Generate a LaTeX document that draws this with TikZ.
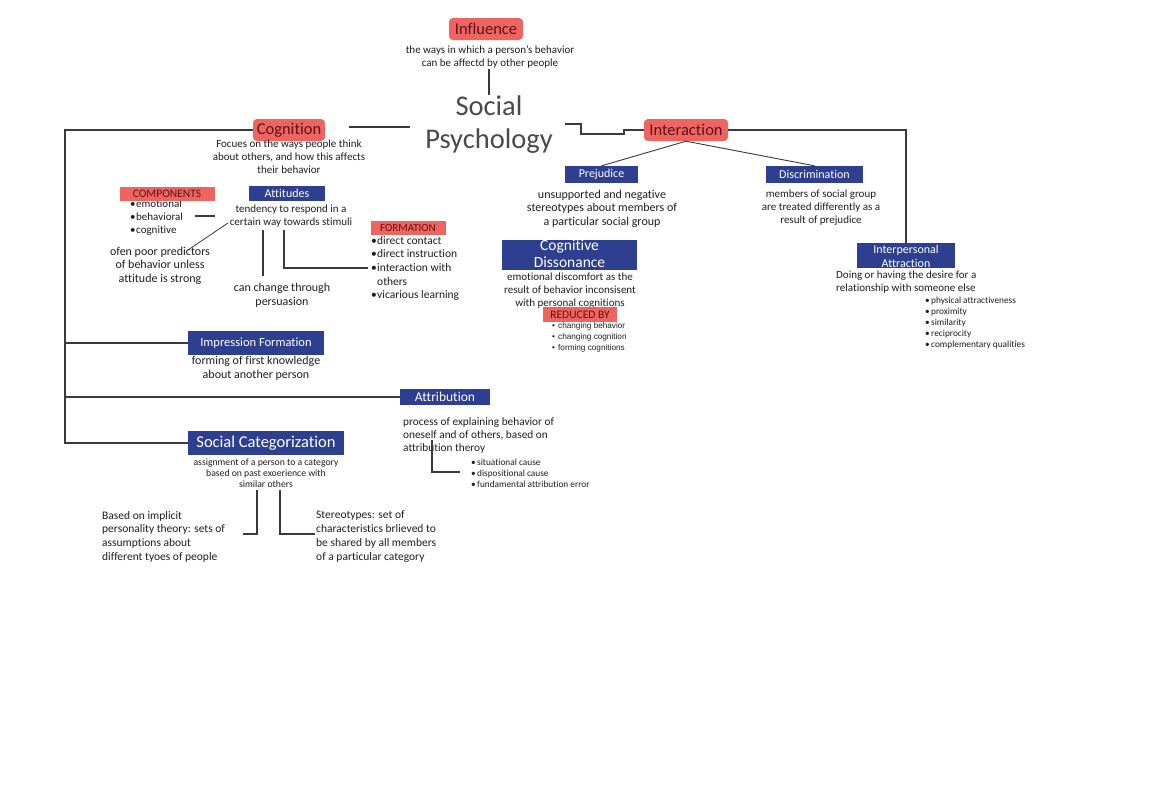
\documentclass[tikz,border=0pt]{standalone}
\usepackage{fontspec}
\setmainfont[Ligatures=NoCommon]{Carlito}
\newfontfamily\arialf{Liberation Sans}
\definecolor{redc}{HTML}{EE6461}
\definecolor{bluec}{HTML}{2D3F8E}
\definecolor{redtxt}{HTML}{5E1515}
\definecolor{linec}{HTML}{3A3A3A}
\definecolor{txtc}{HTML}{1E1E1E}
\definecolor{titlec}{HTML}{4A4A4A}
\newcommand\bl[1]{\makebox[6pt][l]{\textbullet}#1}
\newcommand\fs[2]{\fontsize{#1}{#2}\selectfont}
\begin{document}
\begin{tikzpicture}[x=1pt,y=-1pt,
  redr/.style={fill=redc, rounded corners=4pt, text=redtxt, inner sep=0pt, font=\fs{16.5}{18}},
  redl/.style={fill=redc, text=redtxt, inner sep=0pt, font=\fs{11.5}{13}},
  bluel/.style={fill=bluec, text=white, inner sep=0pt, font=\fs{12}{14}},
  desc/.style={align=center, text=txtc, inner sep=0pt, font=\fs{11}{13}},
  descl/.style={align=left, text=txtc, inner sep=0pt, font=\fs{11}{13}},
  small/.style={align=left, text=txtc, inner sep=0pt, font=\fs{9.3}{11}},
  conn/.style={draw=linec, line width=1.1pt}]
\useasboundingbox (0,0) rectangle (1152,796);
\fill[white] (0,0) rectangle (1152,796);

% --- centre
\node[redr, minimum width=74pt, minimum height=22pt] (infl) at (486,29) {Influence};
\node[desc] (infltxt) at (490,57.5) {the ways in which a person's behavior\\can be affectd by other people};
\node[align=center, inner sep=0pt, text=titlec, font=\fs{28.5}{33}] (sp) at (489,124.5) {Social\\Psychology};
\draw[conn] (infltxt.south -| sp.north) -- (sp.north);

% --- cognition branch
\node[redr, minimum width=72pt, minimum height=22pt] (cog) at (289,130) {Cognition};
\coordinate (c1) at (349,127);
\coordinate (c2) at (410,127);
\draw[conn] (c1) -- (c2);
\node[desc] (cogtxt) at (289,157) {Focues on the ways people think\\about others, and how this affects\\their behavior};

\node[bluel, minimum width=76pt, minimum height=15pt] (att) at (287,193.5) {Attitudes};
\node[desc] (atttxt) at (291,216.5) {tendency to respond in a\\certain way towards stimuli};

\node[descl, anchor=west, font=\fs{11}{13}] (complist) at (130,217.5) {\bl{emotional}\\\bl{behavioral}\\\bl{cognitive}};
\node[redl, minimum width=95pt, minimum height=14pt] (comp) at (167,194) {COMPONENTS};

\node[desc, font=\fs{12}{13.5}] (ofen) at (160,265.5) {ofen poor predictors\\of behavior unless\\attitude is strong};
\node[desc, font=\fs{12}{14}] (persu) at (282,295) {can change through\\persuasion};

\node[redl, minimum width=75pt, minimum height=14pt, font=\fs{11}{12}] (form) at (408,228) {FORMATION};
\node[descl, anchor=west, font=\fs{11.5}{13.7}] (formlist) at (371,268.5) {\bl{direct contact}\\\bl{direct instruction}\\\bl{interaction with}\\\hspace*{6pt}others\\\bl{vicarious learning}};

\coordinate (k1) at (195,216);
\coordinate (k2) at (215,216);
\draw[conn] (k1) -- (k2);
\coordinate (d1) at (228,223);
\coordinate (d2) at (188,250);
\draw[conn, line width=0.8pt] (d1) -- (d2);
\coordinate (v1) at (263,230);
\coordinate (v2) at (263,276);
\draw[conn] (v1) -- (v2);
\coordinate (f1) at (284,230);
\coordinate (f2) at (368,268);
\draw[conn] (f1) |- (f2);

% --- left spine
\node[bluel, minimum width=136pt, minimum height=24pt, font=\fs{12.5}{14}] (imp) at (256,343) {Impression Formation};
\node[desc, font=\fs{12}{14}] (imptxt) at (256,368) {forming of first knowledge\\about another person};
\node[bluel, minimum width=90pt, minimum height=16pt, font=\fs{13.5}{15}] (attr) at (445,397) {Attribution};
\node[descl, anchor=west, font=\fs{11.3}{13}] (attrtxt) at (403,435) {process of explaining behavior of\\oneself and of others, based on\\attribution theroy};
\node[small, anchor=west] (attrlist) at (471,473) {\bl{situational cause}\\\bl{dispositional cause}\\\bl{fundamental attribution error}};
\coordinate (t1) at (432,440);
\coordinate (t2) at (460,472);
\draw[conn] (t1) |- (t2);

\node[bluel, minimum width=156pt, minimum height=24pt, font=\fs{16.5}{18}] (sc) at (266,443) {Social Categorization};
\node[desc, font=\fs{9.7}{11}] (sctxt) at (266,473) {assignment of a person to a category\\based on past exoerience with\\similar others};
\node[descl, anchor=west, font=\fs{11.5}{13.7}] (implicit) at (102,536.5) {Based on implicit\\personality theory: sets of\\assumptions about\\different tyoes of people};
\node[descl, anchor=west, font=\fs{11.5}{13.7}] (stereo) at (316,536.5) {Stereotypes: set of\\characteristics brlieved to\\be shared by all members\\of a particular category};
\coordinate (s1) at (257,490);
\coordinate (s2) at (243,534);
\draw[conn] (s1) |- (s2);
\coordinate (s3) at (280,490);
\coordinate (s4) at (315,534);
\draw[conn] (s3) |- (s4);

\coordinate (L) at (65,130);
\draw[conn] (cog.west) -- (L) -- (L |- sc.west) -- (sc.west);
\draw[conn] (L |- imp.west) -- (imp.west);
\draw[conn] (L |- attr.west) -- (attr.west);

% --- interaction branch
\node[redr, minimum width=84pt, minimum height=22pt] (inter) at (686,130) {Interaction};
\coordinate (r1) at (565,124);
\draw[conn] (r1) -- (581,124) -- (581,134) -- (624,134) -- (624,130) -- (inter.west);

\node[bluel, minimum width=73pt, minimum height=17pt] (prej) at (601.5,174.5) {Prejudice};
\node[desc, font=\fs{12}{13.5}] (prejtxt) at (602,208.5) {unsupported and negative\\stereotypes about members of\\a particular social group};
\node[bluel, minimum width=97pt, minimum height=17pt] (disc) at (814.5,174.5) {Discrimination};
\node[desc, font=\fs{11}{13}] (disctxt) at (821,208) {members of social group\\are treated differently as a\\result of prejudice};
\draw[conn, line width=0.9pt] (inter.south) -- (prej.north);
\draw[conn, line width=0.9pt] (inter.south) -- (disc.north);

\node[fill=bluec, minimum width=135pt, minimum height=30pt, inner sep=0pt] (cd) at (569.5,255) {};
\node[align=center, text=white, inner sep=0pt, font=\fs{15.5}{17}] (cdlbl) at (569.5,254) {Cognitive\\Dissonance};
\node[desc, font=\fs{11}{13}] (cdtxt) at (570,290.5) {emotional discomfort as the\\result of behavior inconsisent\\with personal cognitions};
\node[redl, minimum width=74pt, minimum height=15pt] (red) at (580,314.5) {REDUCED BY};
\node[small, anchor=west, font=\arialf\fs{8.2}{11}] (redlist) at (552,337) {\bl{changing behavior}\\\bl{changing cognition}\\\bl{forming cognitions}};

\node[fill=bluec, minimum width=98pt, minimum height=25pt, inner sep=0pt] (ia) at (906,255.5) {};
\node[align=center, text=white, inner sep=0pt, font=\fs{12}{13.5}] (ialbl) at (906,256.5) {Interpersonal\\Attraction};
\draw[conn] (inter.east) -| (ia.north);
\node[descl, font=\fs{11}{13}, anchor=west] (iatxt) at (836,282.5) {Doing or having the desire for a\\relationship with someone else};
\node[small, anchor=west] (ialist) at (925,323) {\bl{physical attractiveness}\\\bl{proximity}\\\bl{similarity}\\\bl{reciprocity}\\\bl{complementary qualities}};
\end{tikzpicture}
\end{document}
